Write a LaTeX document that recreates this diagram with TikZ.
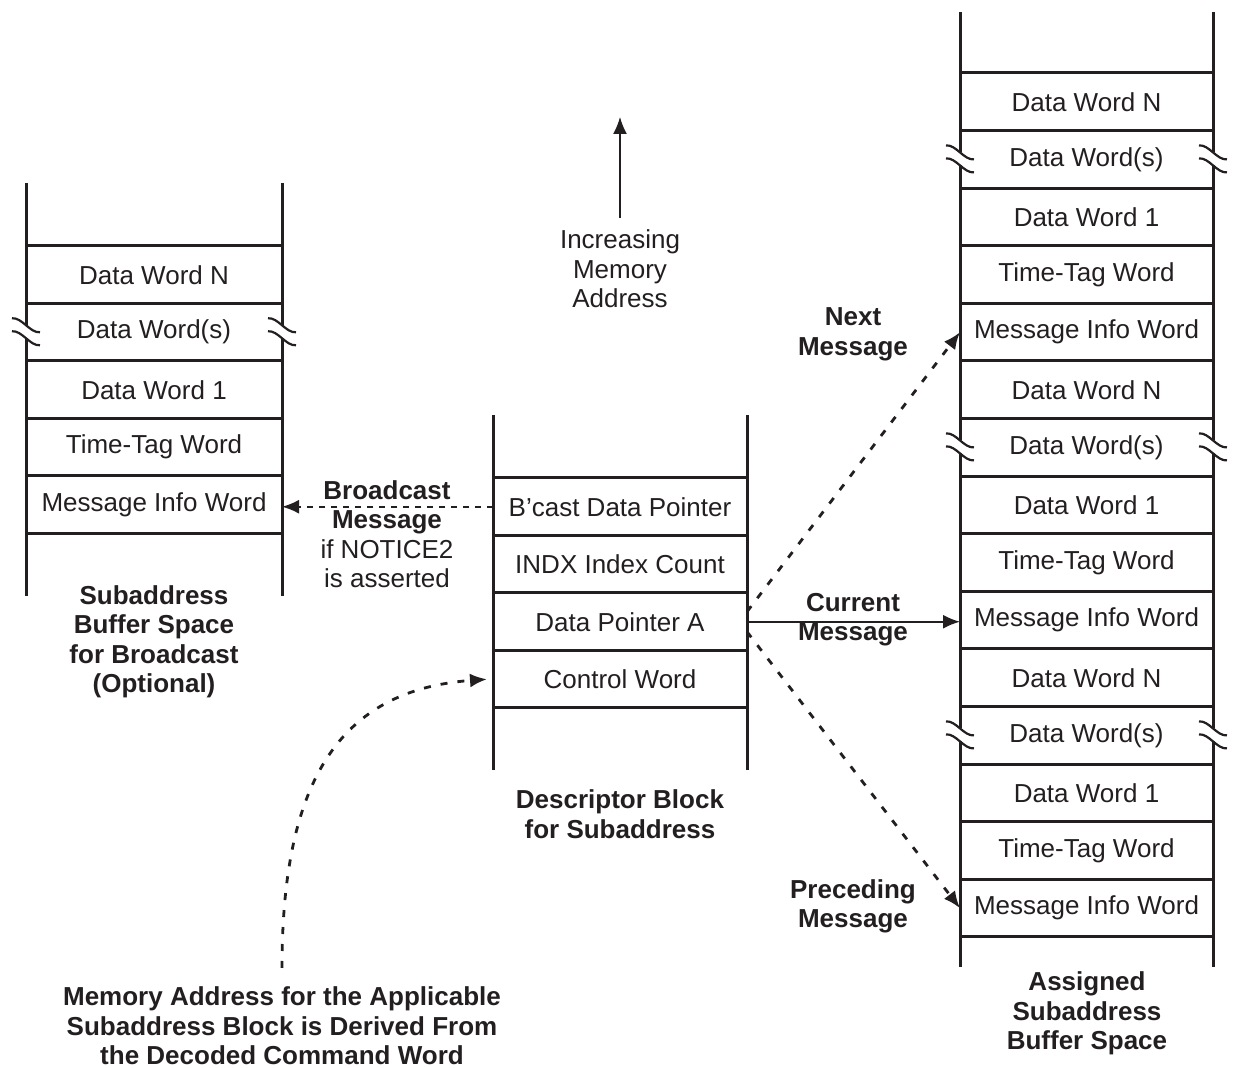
\documentclass[tikz,border=0pt]{standalone}
\usepackage{fontspec}
\setmainfont{Liberation Sans}
\usetikzlibrary{calc,arrows.meta}
\definecolor{inkgray}{RGB}{35,31,32}
% broken side wall of a memory row
\newcommand\wallbreak[1]{%
  \fill[white] ($(#1)+(-4,-7)$) rectangle ($(#1)+(4,6)$);
  \draw[tilde] ($(#1)+(-14,-14)$) .. controls ($(#1)+(-4,-15)$) and ($(#1)+(4,1)$) .. ($(#1)+(14,0)$);
  \draw[tilde] ($(#1)+(-14,-1)$) .. controls ($(#1)+(-4,-2)$) and ($(#1)+(4,14)$) .. ($(#1)+(14,13)$);
}

\begin{document}
\begin{tikzpicture}[x=0.5pt, y=-0.5pt, >={Latex[length=8.5pt,width=7pt]},
  font=\fontsize{13pt}{14.75pt}\selectfont, color=inkgray,
  wall/.style={line width=1.5pt},
  tilde/.style={line width=1.1pt},
  cell/.style={minimum width=127pt, minimum height=28.75pt, inner sep=0pt, outer sep=0pt},
  lbl/.style={align=center, inner sep=0pt},
  caption/.style={align=center, inner sep=0pt, font=\fontsize{13pt}{14.75pt}\selectfont\bfseries},
  dotline/.style={line width=1.4pt, dash pattern=on 3.5pt off 5pt},
  dashline/.style={line width=1pt, dash pattern=on 3pt off 3pt}]
  \useasboundingbox (0,0) rectangle (1233,1068);

  % broadcast buffer
  \foreach \txt [count=\i] in {Data Word N,Data Word(s),Data Word 1,Time-Tag Word,Message Info Word}{
    \pgfmathsetmacro\yc{246+57.5*(\i-1)+28.75}
    \node[cell, minimum width=128pt] (bw\i) at (154,\yc) {\txt};
    \draw[wall] (bw\i.north west) -- (bw\i.north east) (bw\i.south west) -- (bw\i.south east);
  }
  \draw[wall] ($(bw1.north west)+(0,-63)$) -- ($(bw5.south west)+(0,63)$);
  \draw[wall] ($(bw1.north east)+(0,-63)$) -- ($(bw5.south east)+(0,63)$);
  \wallbreak{bw2.west} \wallbreak{bw2.east}
  \node[caption] (bwcap) at (154,642) {Subaddress\\Buffer Space\\for Broadcast\\(Optional)};

  % descriptor block
  \foreach \txt [count=\i] in {B’cast Data Pointer,INDX Index Count,Data Pointer A,Control Word}{
    \pgfmathsetmacro\yc{478+57.5*(\i-1)+28.75}
    \node[cell] (d\i) at (620,\yc) {\txt};
    \draw[wall] (d\i.north west) -- (d\i.north east) (d\i.south west) -- (d\i.south east);
  }
  \draw[wall] ($(d1.north west)+(0,-63)$) -- ($(d4.south west)+(0,62)$);
  \draw[wall] ($(d1.north east)+(0,-63)$) -- ($(d4.south east)+(0,62)$);
  \node[caption] (dcap) at (620,814) {Descriptor Block\\for Subaddress};

  % assigned buffer
  \foreach \grp in {0,1,2}{
    \foreach \txt [count=\i from 0] in {Data Word N,Data Word(s),Data Word 1,Time-Tag Word,Message Info Word}{
      \pgfmathsetmacro\yc{73+57.6*(5*\grp+\i)+28.8}
      \node[cell, minimum height=28.8pt, minimum width=126.5pt] (msg\grp\i) at (1086.5,\yc) {\txt};
      \draw[wall] (msg\grp\i.north west) -- (msg\grp\i.north east) (msg\grp\i.south west) -- (msg\grp\i.south east);
    }
  }
  \draw[wall] ($(msg00.north west)+(0,-61)$) -- ($(msg24.south west)+(0,30)$);
  \draw[wall] ($(msg00.north east)+(0,-61)$) -- ($(msg24.south east)+(0,30)$);
  \foreach \grp in {0,1,2}{
    \wallbreak{msg\grp1.west} \wallbreak{msg\grp1.east}
  }
  \node[caption] (mcap) at (1087,1013.5) {Assigned\\Subaddress\\Buffer Space};

  % increasing address
  \node[lbl] (incr) at (620,269) {Increasing\\Memory\\Address};
  \coordinate (uptip) at (620,117);
  \draw[->, line width=0.8pt, shorten <=6pt] (incr.north) -- (uptip);

  % pointers
  \draw[dashline,->] (d1.west) -- (d1.west -| bw5.east);
  \node[lbl] (bclbl) at (387,534) {\textbf{Broadcast}\\\textbf{Message}\\if NOTICE2\\is asserted};

  \draw[dotline,->] ([yshift=5pt]d3.east) -- (msg04.west);
  \draw[line width=0.9pt,->] (d3.east) -- (d3.east -| msg14.west);
  \draw[dotline,->] ([yshift=-5pt]d3.east) -- (msg24.west);
  \node[caption] (nextlbl) at (853,334.5) {Next\\Message};
  \node[caption] (curlbl) at (853,619.5) {Current\\Message};
  \node[caption] (prevlbl) at (853,906.5) {Preceding\\Message};

  % command word lookup
  \coordinate (memsrc) at (282,968);
  \draw[dotline,->] (memsrc) .. controls (282,780) and (340,690) .. ([xshift=-3pt]d4.west);
  \node[caption] (memlbl) at (282,1026) {Memory Address for the Applicable\\Subaddress Block is Derived From\\the Decoded Command Word};
\end{tikzpicture}
\end{document}
